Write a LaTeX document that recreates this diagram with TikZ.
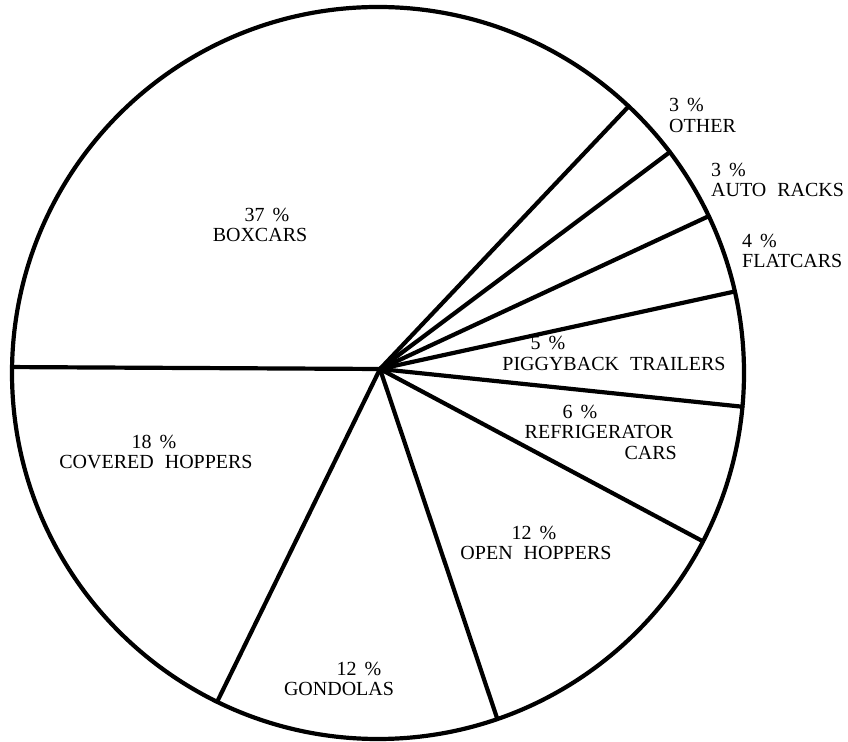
\documentclass[tikz,border=0pt]{standalone}
\usepackage{fontspec}
\setmainfont{Liberation Serif}
\begin{document}
\begin{tikzpicture}[x=1pt,y=1pt,
  pie/.style={line width=4.2pt, line cap=round, line join=round},
  lbl/.style={font=\fontsize{20}{22}\selectfont, inner sep=0pt}]
\useasboundingbox (0,0) rectangle (848,741);
\coordinate (C) at (378,368);
\coordinate (H) at (380,372);
\draw[pie] (C) circle[radius=366];
\foreach \a/\n in {46.77/a,37.12/b,25.37/c,12.87/d,-5.29/e,-27.39/f,-70.97/g,-116.07/h,179.07/i}{
  \path (C) ++(\a:366) coordinate (p\n);
  \draw[pie] (H) -- (p\n);
}
% labels
\node[lbl] (boxp) at (267,526) {37\hspace{0.4em}\%};
\node[lbl] (boxt) at (260,506) {BOXCARS};
\node[lbl,anchor=west] (othp) at (669,636) {3\hspace{0.4em}\%};
\node[lbl,anchor=west] (otht) at (669,615) {OTHER};
\node[lbl,anchor=west] (autp) at (711,571) {3\hspace{0.4em}\%};
\node[lbl,anchor=west] (autt) at (711,551) {AUTO\hspace{0.3em} RACKS};
\node[lbl,anchor=west] (flap) at (742,500) {4\hspace{0.4em}\%};
\node[lbl,anchor=west] (flat) at (742,480) {FLATCARS};
\node[lbl] (pigp) at (548,398) {5\hspace{0.4em}\%};
\node[lbl] (pigt) at (614,377) {PIGGYBACK\hspace{0.3em} TRAILERS};
\node[lbl] (refp) at (580,329) {6\hspace{0.4em}\%};
\node[lbl] (reft) at (599,309) {REFRIGERATOR};
\node[lbl,anchor=east] (refc) at (677,288) {CARS};
\node[lbl] (covp) at (154,299) {18\hspace{0.4em}\%};
\node[lbl] (covt) at (156,279) {COVERED\hspace{0.3em} HOPPERS};
\node[lbl] (opnp) at (534,208) {12\hspace{0.4em}\%};
\node[lbl] (opnt) at (536,188) {OPEN\hspace{0.3em} HOPPERS};
\node[lbl] (gonp) at (359,72) {12\hspace{0.4em}\%};
\node[lbl] (gont) at (339,52) {GONDOLAS};
\end{tikzpicture}
\end{document}
